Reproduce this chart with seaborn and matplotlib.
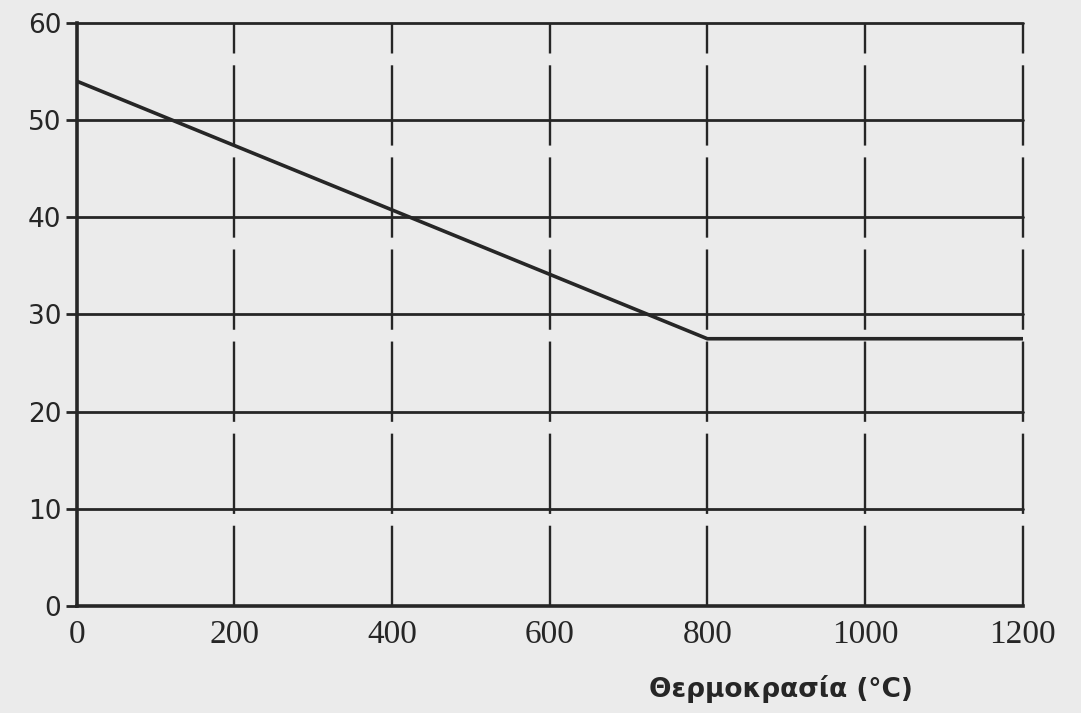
import matplotlib
matplotlib.use("Agg")
import matplotlib.pyplot as plt
import seaborn as sns
import pandas as pd

# Curve: value vs temperature (°C)
temperature = [0, 800, 1200]
value = [54.0, 27.5, 27.5]

x_ticks = [0, 200, 400, 600, 800, 1000, 1200]
x_tick_labels = ["0", "200", "400", "600", "800", "1000", "1200"]
y_ticks = [0, 10, 20, 30, 40, 50, 60]
y_tick_labels = ["0", "10", "20", "30", "40", "50", "60"]
x_label = "Θερμοκρασία (°C)"

paper = "#ebebeb"
ink = "#262626"

sns.set_theme(style="white")
plt.rcParams["font.family"] = ["DejaVu Sans"]

fig = plt.figure(figsize=(10.81, 7.13), dpi=100, facecolor=paper)
ax = fig.add_axes([0.071, 0.150, 0.875, 0.818], facecolor=paper)

df = pd.DataFrame({"T": temperature, "v": value})
sns.lineplot(data=df, x="T", y="v", ax=ax, color=ink, linewidth=2.6, zorder=4)

ax.set_xlim(0, 1200)
ax.set_ylim(0, 60)

# horizontal rules (solid)
for yv in y_ticks[1:]:
    ax.axhline(yv, color=ink, linewidth=2.0, clip_on=False, zorder=3)

# vertical rules (long dashes with small breaks)
for xv in x_ticks[1:]:
    ax.axvline(xv, color=ink, linewidth=1.7, linestyle=(0, (34, 5)),
               clip_on=False, zorder=2)

for side in ["top", "right"]:
    ax.spines[side].set_visible(False)
for side in ["left", "bottom"]:
    ax.spines[side].set_color(ink)
    ax.spines[side].set_linewidth(2.6)

ax.set_xticks(x_ticks)
ax.set_xticklabels(x_tick_labels, family=["Liberation Serif"], fontsize=24, color=ink)
ax.set_yticks(y_ticks)
ax.set_yticklabels(y_tick_labels, family=["DejaVu Sans"], fontsize=19, color=ink)
ax.tick_params(axis="x", length=0, pad=10)
ax.tick_params(axis="y", length=8, width=2, color=ink, pad=3, direction="out", left=True)

ax.set_xlabel(x_label, fontsize=19, fontweight="bold", color=ink)
ax.set_ylabel("")
ax.xaxis.set_label_coords(0.745, -0.118)

fig.savefig("out.png", dpi=100, facecolor=paper)
